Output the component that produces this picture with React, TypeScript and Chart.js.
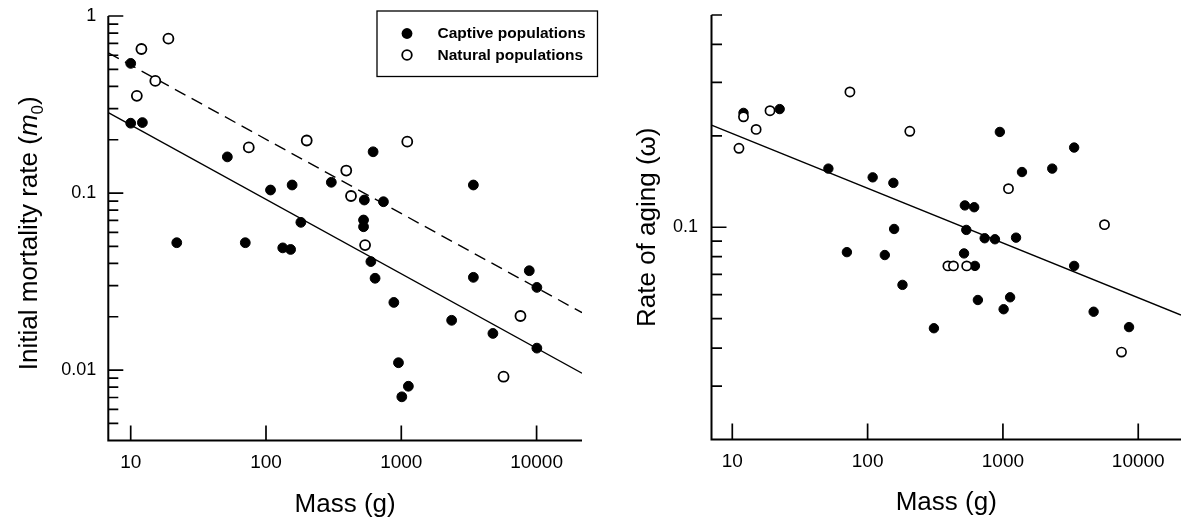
import React, { useEffect, useRef } from "react";
import { Chart, registerables } from "chart.js";

Chart.register(...registerables);

const FONT = "'Liberation Sans', Arial, Helvetica, sans-serif";

// ---------- Left panel: initial mortality rate (m0) vs mass ----------
const leftCaptiveMass = [10, 10, 12.2, 51.8, 108, 156, 304, 619, 3410, 533, 738, 181, 526, 526, 21.9, 70.3, 133, 152, 596, 640, 8830, 10050, 3410, 881, 2356, 4755, 10050, 953, 1128, 1009];
const leftCaptiveRate = [0.54, 0.248, 0.25, 0.16, 0.104, 0.111, 0.115, 0.171, 0.111, 0.0913, 0.0893, 0.0683, 0.0704, 0.0645, 0.0524, 0.0524, 0.049, 0.048, 0.041, 0.033, 0.0364, 0.0293, 0.0334, 0.0241, 0.0191, 0.0161, 0.0133, 0.011, 0.0081, 0.00706];
const leftNaturalMass = [19, 12, 15.2, 11.1, 74.6, 200, 392, 425, 1107, 540, 7600, 5700];
const leftNaturalRate = [0.745, 0.651, 0.43, 0.354, 0.181, 0.198, 0.134, 0.0962, 0.195, 0.0508, 0.0202, 0.00917];
const leftSolidMass = [6.83, 21660];
const leftSolidRate = [0.285, 0.0096];
const leftDashedMass = [6.83, 21660];
const leftDashedRate = [0.62, 0.0211];

// ---------- Right panel: rate of aging (omega) vs mass ----------
const rightCaptiveMass = [12.1, 22.4, 51.3, 109, 155, 949, 3360, 2314, 1383, 523, 613, 157, 536, 733, 873, 1250, 70.3, 134, 516, 3360, 621, 181, 653, 1130, 1012, 309, 4680, 8550];
const rightCaptiveRate = [0.238, 0.245, 0.156, 0.146, 0.14, 0.206, 0.183, 0.156, 0.152, 0.118, 0.1164, 0.0987, 0.098, 0.092, 0.0913, 0.0924, 0.0828, 0.081, 0.082, 0.0746, 0.0746, 0.0646, 0.0576, 0.0588, 0.0537, 0.0465, 0.0527, 0.0469];
const rightNaturalMass = [11.2, 12.1, 15, 19, 74, 205, 1099, 5630, 392, 431, 540, 7520];
const rightNaturalRate = [0.182, 0.231, 0.21, 0.242, 0.279, 0.207, 0.134, 0.102, 0.0746, 0.0746, 0.0746, 0.0388];
const rightLineMass = [7.02, 20700];
const rightLineRate = [0.217, 0.0514];

// ---------- Axes / ticks / labels ----------
const xTickValues = [10, 100, 1000, 10000];
const leftYMajor = [1, 0.1, 0.01];
const leftYMinor = [0.9, 0.8, 0.7, 0.6, 0.5, 0.4, 0.3, 0.2, 0.09, 0.08, 0.07, 0.06, 0.05, 0.04, 0.03, 0.02, 0.009, 0.008, 0.007, 0.006, 0.005];
const rightYMajor = [0.1];
const rightYMinor = [0.5, 0.4, 0.3, 0.2, 0.09, 0.08, 0.07, 0.06, 0.05, 0.04, 0.03];
const legendLabels = ["Captive populations", "Natural populations"];
const xTitle = "Mass (g)";
const leftYTitle = ["Initial mortality rate (", "m", "0", ")"];
const rightYTitle = "Rate of aging (\u03c9)";

const zip = (xs: number[], ys: number[]) => xs.map((x, i) => ({ x, y: ys[i] }));

type FrameCfg = {
  yMajor: number[];
  yMinor: number[];
  majorLen: number;
  minorLen: number;
  xLen: number;
  titleX: number;
  titleShift: number;
  titleBaselineOffset: number;
  drawYTitle: (ctx: CanvasRenderingContext2D, cx: number, cy: number) => void;
  legend?: boolean;
};

function framePlugin(cfg: FrameCfg) {
  return {
    id: "frame",
    afterDraw(chart: any) {
      const ctx: CanvasRenderingContext2D = chart.ctx;
      const xs = chart.scales.x;
      const ys = chart.scales.y;
      const { left, right, top, bottom } = chart.chartArea;
      ctx.save();
      ctx.strokeStyle = "#000";
      ctx.fillStyle = "#000";
      // axis lines
      ctx.lineWidth = 2;
      ctx.beginPath();
      ctx.moveTo(left, top);
      ctx.lineTo(left, bottom);
      ctx.lineTo(right, bottom);
      ctx.stroke();
      // tick marks (inward)
      ctx.lineWidth = 1.7;
      ctx.beginPath();
      cfg.yMajor.forEach((v) => {
        const p = ys.getPixelForValue(v);
        ctx.moveTo(left, p);
        ctx.lineTo(left + cfg.majorLen, p);
      });
      cfg.yMinor.forEach((v) => {
        const p = ys.getPixelForValue(v);
        ctx.moveTo(left, p);
        ctx.lineTo(left + cfg.minorLen, p);
      });
      xTickValues.forEach((v) => {
        const p = xs.getPixelForValue(v);
        ctx.moveTo(p, bottom);
        ctx.lineTo(p, bottom - cfg.xLen);
      });
      ctx.stroke();
      // x title
      ctx.font = `26px ${FONT}`;
      ctx.textAlign = "center";
      ctx.textBaseline = "alphabetic";
      ctx.fillText(xTitle, (left + right) / 2, bottom + cfg.titleBaselineOffset);
      // y title
      cfg.drawYTitle(ctx, cfg.titleX, (top + bottom) / 2 + cfg.titleShift);
      // legend
      if (cfg.legend) {
        const bx0 = 377, by0 = 11, bx1 = 597.5, by1 = 76.5;
        ctx.lineWidth = 1.3;
        ctx.strokeRect(bx0, by0, bx1 - bx0, by1 - by0);
        const rows = [33.5, 55];
        ctx.beginPath();
        ctx.arc(407, rows[0], 5.4, 0, Math.PI * 2);
        ctx.fill();
        ctx.beginPath();
        ctx.lineWidth = 1.8;
        ctx.arc(407, rows[1], 4.8, 0, Math.PI * 2);
        ctx.stroke();
        ctx.font = `bold 15.5px ${FONT}`;
        ctx.textAlign = "left";
        ctx.textBaseline = "middle";
        legendLabels.forEach((t, i) => ctx.fillText(t, 437.5, rows[i] + 0.5));
      }
      ctx.restore();
    },
  };
}

function drawLeftTitle(ctx: CanvasRenderingContext2D, cx: number, cy: number) {
  const parts = [
    { t: leftYTitle[0], f: `26px ${FONT}`, dy: 0 },
    { t: leftYTitle[1], f: `italic 26px ${FONT}`, dy: 0 },
    { t: leftYTitle[2], f: `17px ${FONT}`, dy: 6 },
    { t: leftYTitle[3], f: `26px ${FONT}`, dy: 0 },
  ];
  ctx.save();
  ctx.translate(cx, cy);
  ctx.rotate(-Math.PI / 2);
  ctx.textAlign = "left";
  ctx.textBaseline = "alphabetic";
  let total = 0;
  const widths = parts.map((p) => {
    ctx.font = p.f;
    const w = ctx.measureText(p.t).width;
    total += w;
    return w;
  });
  let x = -total / 2;
  parts.forEach((p, i) => {
    ctx.font = p.f;
    ctx.fillText(p.t, x, p.dy);
    x += widths[i];
  });
  ctx.restore();
}

function drawRightTitle(ctx: CanvasRenderingContext2D, cx: number, cy: number) {
  ctx.save();
  ctx.translate(cx, cy);
  ctx.rotate(-Math.PI / 2);
  ctx.font = `26px ${FONT}`;
  ctx.textAlign = "center";
  ctx.textBaseline = "alphabetic";
  ctx.fillText(rightYTitle, 0, 0);
  ctx.restore();
}

type PanelCfg = {
  captive: { x: number; y: number }[];
  natural: { x: number; y: number }[];
  lines: { data: { x: number; y: number }[]; dash: number[] }[];
  xMin: number;
  xMax: number;
  yMin: number;
  yMax: number;
  yLabels: number[];
  yWidth: number;
  xHeight: number;
  padding: { top: number; right: number; left: number; bottom: number };
  yPad: number;
  filledR: number;
  openR: number;
  openW: number;
  frame: FrameCfg;
};

function buildConfig(p: PanelCfg): any {
  return {
    type: "scatter",
    data: {
      datasets: [
        {
          label: legendLabels[1],
          data: p.natural,
          pointRadius: p.openR,
          pointHoverRadius: p.openR,
          pointBackgroundColor: "#fff",
          pointBorderColor: "#000",
          pointBorderWidth: p.openW,
          showLine: false,
          order: 0,
        },
        {
          label: legendLabels[0],
          data: p.captive,
          pointRadius: p.filledR,
          pointHoverRadius: p.filledR,
          pointBackgroundColor: "#000",
          pointBorderColor: "#000",
          pointBorderWidth: 1,
          showLine: false,
          order: 1,
        },
        ...p.lines.map((l, i) => ({
          label: "fit" + i,
          data: l.data,
          showLine: true,
          pointRadius: 0,
          pointHoverRadius: 0,
          borderColor: "#000",
          borderWidth: 1.4,
          borderDash: l.dash,
          fill: false,
          order: 5 + i,
        })),
      ],
    },
    options: {
      responsive: false,
      animation: false,
      devicePixelRatio: 1,
      layout: { padding: p.padding, autoPadding: false },
      plugins: { legend: { display: false }, tooltip: { enabled: false } },
      events: [],
      scales: {
        x: {
          type: "logarithmic",
          position: "bottom",
          min: p.xMin,
          max: p.xMax,
          grid: { display: false, drawTicks: false },
          border: { display: false },
          ticks: {
            autoSkip: false,
            maxRotation: 0,
            padding: 11,
            color: "#000",
            font: { family: FONT, size: 19 },
            callback: (v: any) => String(v),
          },
          afterBuildTicks: (s: any) => {
            s.ticks = xTickValues.map((v) => ({ value: v }));
          },
          afterFit: (s: any) => {
            s.height = p.xHeight;
            s.paddingLeft = 0;
            s.paddingRight = 0;
          },
        },
        y: {
          type: "logarithmic",
          position: "left",
          min: p.yMin,
          max: p.yMax,
          grid: { display: false, drawTicks: false },
          border: { display: false },
          ticks: {
            autoSkip: false,
            padding: p.yPad,
            color: "#000",
            font: { family: FONT, size: 18 },
            callback: (v: any) => String(v),
          },
          afterBuildTicks: (s: any) => {
            s.ticks = p.yLabels.map((v) => ({ value: v }));
          },
          afterFit: (s: any) => {
            s.width = p.yWidth;
            s.paddingTop = 0;
            s.paddingBottom = 0;
          },
        },
      },
    },
    plugins: [framePlugin(p.frame)],
  };
}

const leftPanel: PanelCfg = {
  captive: zip(leftCaptiveMass, leftCaptiveRate),
  natural: zip(leftNaturalMass, leftNaturalRate),
  lines: [
    { data: zip(leftSolidMass, leftSolidRate), dash: [] },
    { data: zip(leftDashedMass, leftDashedRate), dash: [12, 7] },
  ],
  xMin: 6.83,
  xMax: 21660,
  yMin: 0.004,
  yMax: 1,
  yLabels: leftYMajor,
  yWidth: 108.3,
  xHeight: 78.5,
  padding: { top: 16, right: 18, left: 0, bottom: 0 },
  yPad: 12,
  filledR: 4.9,
  openR: 5,
  openW: 1.8,
  frame: {
    yMajor: leftYMajor,
    yMinor: leftYMinor,
    majorLen: 15,
    minorLen: 10,
    xLen: 15,
    titleX: 36.5,
    titleShift: 5,
    titleBaselineOffset: 71,
    drawYTitle: drawLeftTitle,
    legend: true,
  },
};

const rightPanel: PanelCfg = {
  captive: zip(rightCaptiveMass, rightCaptiveRate),
  natural: zip(rightNaturalMass, rightNaturalRate),
  lines: [{ data: zip(rightLineMass, rightLineRate), dash: [] }],
  xMin: 7.02,
  xMax: 20700,
  yMin: 0.02,
  yMax: 0.5,
  yLabels: rightYMajor,
  yWidth: 111.5,
  xHeight: 79.5,
  padding: { top: 15, right: 0, left: 0, bottom: 0 },
  yPad: 13.5,
  filledR: 4.7,
  openR: 4.6,
  openW: 1.7,
  frame: {
    yMajor: rightYMajor,
    yMinor: rightYMinor,
    majorLen: 15,
    minorLen: 10.5,
    xLen: 16,
    titleX: 55,
    titleShift: 0,
    titleBaselineOffset: 70.5,
    drawYTitle: drawRightTitle,
  },
};

function Panel({ cfg, left, width }: { cfg: PanelCfg; left: number; width: number }) {
  const ref = useRef<HTMLCanvasElement | null>(null);
  useEffect(() => {
    if (!ref.current) return;
    const chart = new Chart(ref.current, buildConfig(cfg));
    return () => chart.destroy();
  }, [cfg]);
  return (
    <canvas
      ref={ref}
      width={width}
      height={519}
      style={{ position: "absolute", left, top: 0, width, height: 519, display: "block" }}
    />
  );
}

export default function App() {
  return (
    <div
      style={{
        position: "absolute",
        left: 0,
        top: 0,
        width: 1181,
        height: 519,
        background: "#fff",
        overflow: "hidden",
      }}
    >
      <Panel cfg={leftPanel} left={0} width={600} />
      <Panel cfg={rightPanel} left={600} width={581} />
    </div>
  );
}
